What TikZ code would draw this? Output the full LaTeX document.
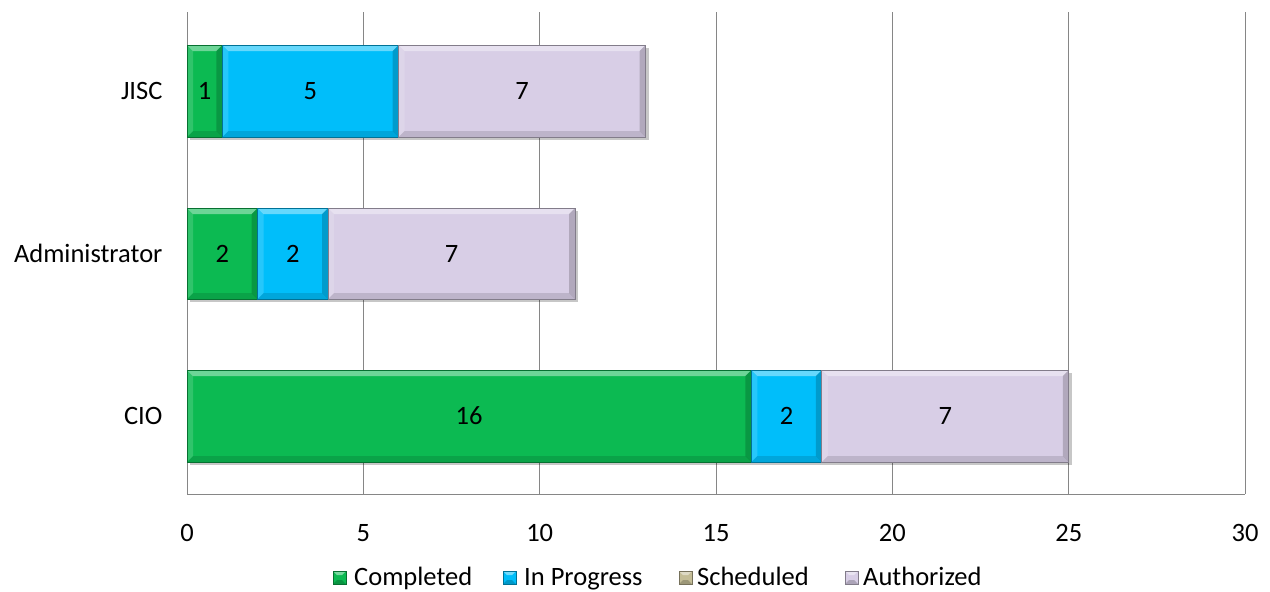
\documentclass[tikz,border=0pt]{standalone}
\usepackage{fontspec}
\setmainfont{Carlito}
\begin{document}
\definecolor{cgreen}{RGB}{12,186,82}
\definecolor{cblue}{RGB}{0,190,250}
\definecolor{csched}{RGB}{196,189,151}
\definecolor{cauth}{RGB}{216,206,230}
\definecolor{gridgray}{RGB}{134,134,134}
\tikzset{
  grid line/.style={draw=gridgray, line width=1pt},
  big font/.style={font=\fontsize{26.5}{30}\selectfont},
  tick label/.style={big font, anchor=center},
  cat label/.style={big font, anchor=east},
  value label/.style={big font, anchor=center},
  legend text/.style={big font, anchor=base west, inner sep=0pt},
}
% beveled bar segment: #1 left x, #2 right x, #3 top y, #4 bottom y, #5 colour, #6 node name, #7 value
\newcommand{\bevbar}[7]{%
  \fill[black, opacity=0.22] (#1+3,#3+3) rectangle (#2+3,#4+3);
  \fill[#5] (#1,#3) rectangle (#2,#4);
  \fill[white, opacity=0.4] (#1,#3) -- (#2,#3) -- (#2-6,#3+6) -- (#1+6,#3+6) -- cycle;
  \fill[white, opacity=0.15] (#1,#3) -- (#1+6,#3+6) -- (#1+6,#4-6) -- (#1,#4) -- cycle;
  \fill[black, opacity=0.12] (#1,#4) -- (#1+6,#4-6) -- (#2-6,#4-6) -- (#2,#4) -- cycle;
  \fill[black, opacity=0.18] (#2,#3) -- (#2-6,#3+6) -- (#2-6,#4-6) -- (#2,#4) -- cycle;
  \draw[#5!60!black, line width=1pt] (#1,#3) rectangle (#2,#4);
  \node[value label] (#6) at ({(#1+#2)/2},{(#3+#4)/2}) {#7};%
}
% small beveled legend key
\newcommand{\legkey}[3]{%
  \fill[#2] (#1,571) rectangle (#1+13,584);
  \fill[white, opacity=0.45] (#1,571) -- (#1+13,571) -- (#1+9,575) -- (#1+4,575) -- cycle;
  \fill[black, opacity=0.2] (#1,584) -- (#1+4,580) -- (#1+9,580) -- (#1+13,584) -- cycle;
  \draw[#2!60!black, line width=0.6pt] (#1,571) rectangle (#1+13,584);
  \coordinate (#3) at (#1+13,585.5);%
}
\begin{tikzpicture}[x=1pt, y=-1pt]
  \useasboundingbox (0,0) rectangle (1270,592);
  % vertical grid lines and axes
  \foreach \v in {0,5,...,30} {
    \pgfmathsetmacro{\gx}{187+35.27*\v}
    \draw[grid line] (\gx,12) -- (\gx,494);
    \node[tick label] (t\v) at (\gx,533) {\v};
  }
  \draw[grid line] (187,494) -- (1245.1,494);
  % category labels
  \node[cat label] (jisc) at (166,91) {JISC};
  \node[cat label] (admin) at (166,253.5) {Administrator};
  \node[cat label] (cio) at (166,416) {CIO};
  % JISC
  \bevbar{187}{222.3}{45}{137}{cgreen}{j1}{1}
  \bevbar{222.3}{398.6}{45}{137}{cblue}{j2}{5}
  \bevbar{398.6}{645.5}{45}{137}{cauth}{j3}{7}
  % Administrator
  \bevbar{187}{257.5}{208}{299}{cgreen}{a1}{2}
  \bevbar{257.5}{328.1}{208}{299}{cblue}{a2}{2}
  \bevbar{328.1}{575}{208}{299}{cauth}{a3}{7}
  % CIO
  \bevbar{187}{751.3}{370}{462}{cgreen}{c1}{16}
  \bevbar{751.3}{821.9}{370}{462}{cblue}{c2}{2}
  \bevbar{821.9}{1068.8}{370}{462}{cauth}{c3}{7}
  % legend
  \legkey{333}{cgreen}{k1}
  \node[legend text] (l1) at ([xshift=8pt]k1) {Completed};
  \legkey{503}{cblue}{k2}
  \node[legend text] (l2) at ([xshift=8pt]k2) {In Progress};
  \legkey{679}{csched}{k3}
  \node[legend text] (l3) at ([xshift=5pt]k3) {Scheduled};
  \legkey{845}{cauth}{k4}
  \node[legend text] (l4) at ([xshift=5pt]k4) {Authorized};
\end{tikzpicture}
\end{document}
